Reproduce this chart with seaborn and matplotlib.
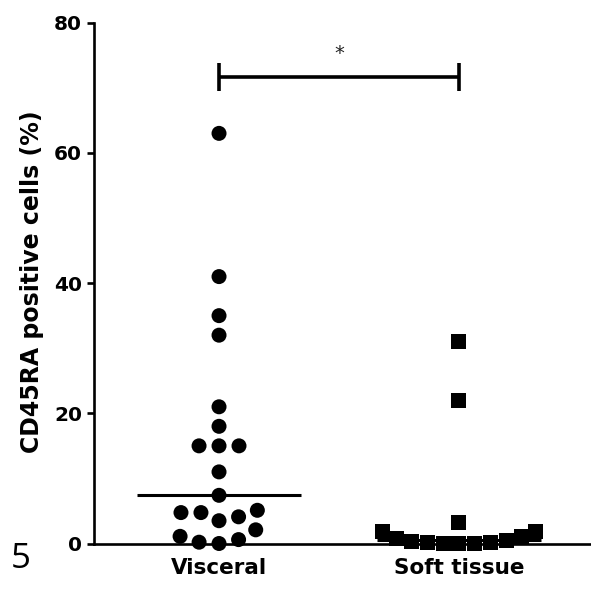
import numpy as np
import pandas as pd
import matplotlib
matplotlib.use("Agg")
import matplotlib.pyplot as plt
import seaborn as sns

# ---- data ----
groups = ["Visceral", "Soft tissue"]
visceral = [63, 41, 35, 32, 21, 18, 15, 15, 15, 11, 7.4, 5.1, 4.75, 4.75,
            4.1, 3.5, 2.1, 1.1, 0.6, 0.2, 0.0]
soft_tissue = [31, 22, 3.2, 1.9, 1.8, 1.0, 0.7, 0.5, 0.3, 0.2, 0.1, 0.05,
               0.0, 0.0]
y_ticks = [0, 20, 40, 60, 80]
y_label = "CD45RA positive cells (%)"
sig_label = "*"
panel_label = "5"
sig_level = 71.7

sns.set_theme(style="ticks")
plt.rcParams["font.family"] = ["DejaVu Sans"]

df = pd.DataFrame({
    "group": [groups[0]] * len(visceral) + [groups[1]] * len(soft_tissue),
    "value": visceral + soft_tissue,
})

W, H = 591, 597
fig = plt.figure(figsize=(W / 100, H / 100), dpi=100)
ax = fig.add_axes([94 / W, 53.5 / H, 496 / W, 520.8 / H])

sns.swarmplot(data=df[df["group"] == groups[0]], x="group", y="value",
              order=groups, marker="o", color="black", size=10.8,
              edgecolor="none", linewidth=2.9, ax=ax, zorder=3)
sns.swarmplot(data=df[df["group"] == groups[1]], x="group", y="value",
              order=groups, marker="s", color="black", size=10.8,
              edgecolor="none", linewidth=0, ax=ax, zorder=3)
for coll in ax.collections:
    if len(coll.get_offsets()) > 0:
        coll.set_clip_on(False)

medians = df.groupby("group")["value"].median()
for i, g in enumerate(groups):
    ax.hlines(medians[g], i - 0.343, i + 0.343, color="black", lw=2.2,
              zorder=4, clip_on=False)

ax.set_xlim(-0.521, 1.546)
ax.set_ylim(0, 80)
ax.set_yticks(y_ticks)
ax.set_xlabel("")
ax.set_ylabel(y_label, fontsize=17, fontweight="bold", color="black")
ax.yaxis.set_label_coords((44 - 94) / 496, 0.503)

sns.despine(ax=ax)
for s in ["left", "bottom"]:
    ax.spines[s].set_linewidth(1.9)
    ax.spines[s].set_color("black")
ax.tick_params(axis="y", length=5, width=1.9, pad=3.5, labelsize=14.5,
               colors="black")
ax.tick_params(axis="x", length=3.5, width=1.9, pad=7, labelsize=15.5,
               colors="black")
for lab in ax.get_yticklabels() + ax.get_xticklabels():
    lab.set_fontweight("bold")

# significance bracket
ax.hlines(sig_level, 0, 1, color="black", lw=2.6, clip_on=False)
ax.vlines([0, 1], sig_level - 2.15, sig_level + 2.15, color="black", lw=2.6,
          clip_on=False)
ax.text(0.5, sig_level + 3.5, sig_label, ha="center", va="center",
        fontsize=14, color="#222222")

fig.text(20.5 / W, (H - 568) / H, panel_label, ha="center", va="baseline",
         fontsize=25, family=["Open Sans", "DejaVu Sans"], color="black")

fig.savefig("out.png", dpi=100, facecolor="white")
